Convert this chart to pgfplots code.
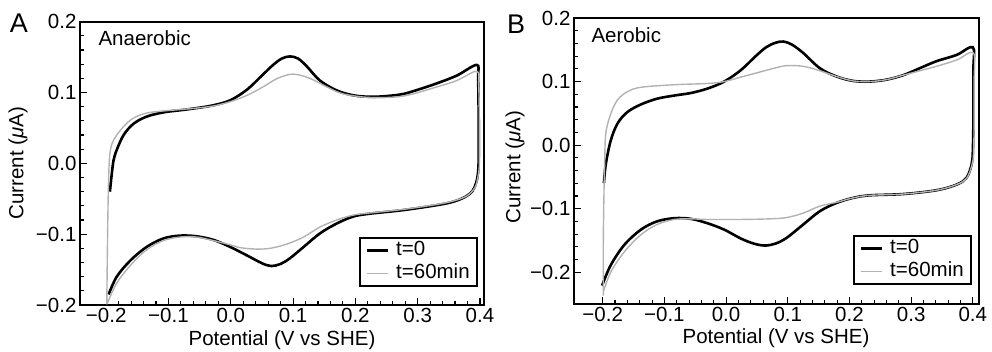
\documentclass[border=0pt]{standalone}
\usepackage{fontspec}
\setmainfont{Liberation Sans}
\usepackage{pgfplots}
\pgfplotsset{compat=1.18}
\newcommand\fs{\fontsize{20.5}{24}\selectfont}
\definecolor{lgray}{RGB}{178,178,178}
\pgfplotsset{cvaxis/.style={
  scale only axis,
  xtick={-0.2,-0.1,0,0.1,0.2,0.3,0.4},
  xticklabels={−0.2,−0.1,0.0,0.1,0.2,0.3,0.4},
  minor x tick num=4, minor y tick num=4,
  tick align=inside, tick pos=left,
  major tick length=7pt, minor tick length=4pt,
  every tick/.append style={black, line width=1.1pt},
  axis line style={line width=1.6pt},
  tick label style={font=\fs},
  legend style={font=\fs, draw=black, line width=1.6pt, inner xsep=6pt, inner ysep=1pt,
    row sep=0pt, nodes={inner sep=1.5pt, text height=15pt, text depth=5pt},
    anchor=south east, at={(rel axis cs:1,0)}},
  legend cell align=left,
  legend image code/.code={\draw[##1] (0pt,0pt) -- (21pt,0pt); \path (26pt,0pt);},
  clip=true,
}}
\begin{document}
\begin{tikzpicture}
\useasboundingbox (0pt,0pt) rectangle (992pt,351pt);
% ---------- Panel A ----------
\begin{axis}[cvaxis, at={(80pt,46pt)}, anchor=south west,
  width=404pt, height=283.3pt,
  xmin=-0.242, xmax=0.4065, ymin=-0.2, ymax=0.2,
  ytick={-0.2,-0.1,0,0.1,0.2},
  yticklabels={−0.2,−0.1,0.0,0.1,0.2},
  legend style={xshift=-6pt, yshift=18pt}]
\addplot[black, line width=2.6pt, smooth, tension=0.55] coordinates {
(-0.194,-0.04) (-0.191,-0.015) (-0.188,0.005) (-0.183,0.019) (-0.172,0.040) (-0.156,0.056) (-0.135,0.066) (-0.108,0.072) (-0.081,0.075) (-0.055,0.078) (-0.028,0.082) (-0.001,0.089) (0.026,0.104) (0.050,0.124) (0.068,0.139) (0.082,0.148) (0.095,0.151) (0.108,0.148) (0.122,0.137) (0.143,0.117) (0.170,0.103) (0.197,0.096) (0.224,0.094) (0.250,0.095) (0.277,0.098) (0.304,0.105) (0.331,0.113) (0.363,0.124) (0.395,0.139)
(0.397,0.12) (0.398,0.06) (0.398,0.01) (0.397,-0.012) (0.394,-0.027) (0.388,-0.039) (0.377,-0.047) (0.358,-0.054) (0.331,-0.059) (0.277,-0.066) (0.224,-0.071) (0.197,-0.075) (0.170,-0.085) (0.143,-0.099) (0.117,-0.118) (0.095,-0.134) (0.080,-0.142) (0.065,-0.145) (0.050,-0.141) (0.026,-0.130) (-0.001,-0.118) (-0.028,-0.108) (-0.055,-0.103) (-0.081,-0.102) (-0.108,-0.106) (-0.135,-0.118) (-0.161,-0.137) (-0.183,-0.160) (-0.196,-0.185)
};
\addlegendentry{t=0}
\addplot[lgray, line width=1.4pt, smooth, tension=0.55] coordinates {
(-0.199,-0.199) (-0.198,-0.12) (-0.197,-0.06) (-0.196,-0.02) (-0.194,0.014) (-0.188,0.033) (-0.172,0.052) (-0.156,0.064) (-0.135,0.071) (-0.108,0.074) (-0.081,0.076) (-0.055,0.078) (-0.028,0.081) (-0.001,0.087) (0.026,0.096) (0.052,0.108) (0.075,0.120) (0.100,0.126) (0.127,0.120) (0.154,0.108) (0.181,0.098) (0.224,0.093) (0.277,0.095) (0.331,0.108) (0.363,0.117) (0.395,0.130)
(0.398,0.11) (0.399,0.06) (0.399,0.0) (0.397,-0.018) (0.392,-0.034) (0.379,-0.046) (0.358,-0.053) (0.331,-0.058) (0.277,-0.065) (0.224,-0.070) (0.197,-0.073) (0.170,-0.080) (0.143,-0.090) (0.117,-0.104) (0.090,-0.114) (0.063,-0.120) (0.040,-0.121) (0.015,-0.119) (-0.001,-0.115) (-0.028,-0.109) (-0.055,-0.104) (-0.081,-0.104) (-0.108,-0.109) (-0.135,-0.122) (-0.161,-0.144) (-0.183,-0.169) (-0.196,-0.193) (-0.199,-0.199)
};
\addlegendentry{t=60min}
\node[anchor=west, font=\fs] at ([xshift=15pt,yshift=-16pt]rel axis cs:0,1) {Anaerobic};
\end{axis}
% ---------- Panel B ----------
\begin{axis}[cvaxis, at={(574pt,47pt)}, anchor=south west,
  width=405pt, height=286pt,
  xmin=-0.2465, xmax=0.41, ymin=-0.25, ymax=0.2,
  ytick={-0.2,-0.1,0,0.1,0.2},
  yticklabels={−0.2,−0.1,0.0,0.1,0.2},
  legend style={xshift=-7pt, yshift=19pt}]
\addplot[black, line width=2.6pt, smooth, tension=0.55] coordinates {
(-0.198,-0.060) (-0.195,-0.030) (-0.187,0.007) (-0.176,0.034) (-0.160,0.052) (-0.138,0.064) (-0.112,0.073) (-0.084,0.078) (-0.057,0.082) (-0.030,0.089) (-0.003,0.100) (0.024,0.118) (0.048,0.140) (0.065,0.154) (0.080,0.161) (0.093,0.163) (0.107,0.158) (0.125,0.145) (0.152,0.121) (0.179,0.108) (0.206,0.101) (0.233,0.100) (0.260,0.103) (0.287,0.110) (0.314,0.121) (0.341,0.132) (0.374,0.142) (0.400,0.154)
(0.401,0.12) (0.401,0.05) (0.400,-0.009) (0.398,-0.030) (0.390,-0.051) (0.374,-0.062) (0.341,-0.071) (0.287,-0.077) (0.233,-0.079) (0.206,-0.083) (0.179,-0.091) (0.152,-0.104) (0.125,-0.125) (0.098,-0.146) (0.080,-0.155) (0.063,-0.158) (0.045,-0.155) (0.024,-0.147) (-0.003,-0.133) (-0.030,-0.123) (-0.057,-0.116) (-0.084,-0.115) (-0.112,-0.120) (-0.138,-0.133) (-0.165,-0.157) (-0.187,-0.189) (-0.201,-0.221)
};
\addlegendentry{t=0}
\addplot[lgray, line width=1.4pt, smooth, tension=0.55] coordinates {
(-0.199,-0.237) (-0.199,-0.15) (-0.198,-0.08) (-0.197,-0.035) (-0.195,0.018) (-0.187,0.049) (-0.176,0.071) (-0.160,0.084) (-0.138,0.091) (-0.084,0.095) (-0.030,0.097) (-0.003,0.100) (0.024,0.107) (0.051,0.114) (0.078,0.121) (0.098,0.125) (0.125,0.124) (0.152,0.117) (0.179,0.108) (0.206,0.101) (0.233,0.100) (0.260,0.103) (0.287,0.110) (0.341,0.124) (0.374,0.134) (0.401,0.145)
(0.402,0.10) (0.402,0.03) (0.401,-0.015) (0.398,-0.033) (0.390,-0.052) (0.374,-0.062) (0.341,-0.071) (0.287,-0.077) (0.233,-0.079) (0.206,-0.083) (0.179,-0.090) (0.152,-0.096) (0.125,-0.107) (0.098,-0.114) (0.071,-0.116) (0.024,-0.117) (-0.030,-0.117) (-0.057,-0.116) (-0.084,-0.117) (-0.112,-0.125) (-0.138,-0.141) (-0.165,-0.168) (-0.187,-0.200) (-0.199,-0.231)
};
\addlegendentry{t=60min}
\node[anchor=west, font=\fs] at ([xshift=14pt,yshift=-17pt]rel axis cs:0,1) {Aerobic};
\end{axis}
% ---------- labels ----------
\node[rotate=90, font=\fs] at (18pt,188pt) {Current (\textit{μ}A)};
\node[rotate=90, font=\fs] at (515pt,184pt) {Current (\textit{μ}A)};
\node[font=\fs] at (282pt,11pt) {Potential (V vs SHE)};
\node[font=\fs] at (776pt,13pt) {Potential (V vs SHE)};
\node[font=\fontsize{27}{30}\selectfont] at (19pt,328pt) {A};
\node[font=\fontsize{27}{30}\selectfont] at (516pt,327pt) {B};
\end{tikzpicture}
\end{document}
